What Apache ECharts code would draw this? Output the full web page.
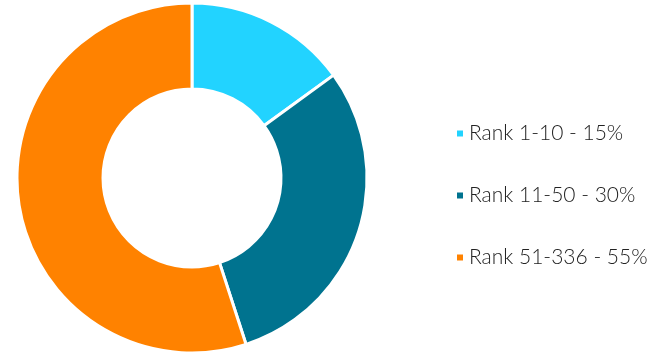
<!DOCTYPE html>
<html>
<head>
<meta charset="utf-8">
<style>
  html, body { margin: 0; padding: 0; background: #fff; }
  #chart { width: 665px; height: 354px; }
</style>
<script src="https://cdn.jsdelivr.net/npm/echarts@6/dist/echarts.min.js"></script>
</head>
<body>
<div id="chart"></div>
<script>
// Share of items by rank band
const categories = ['Rank 1-10', 'Rank 11-50', 'Rank 51-336'];
const shares = [15, 30, 55];
const colors = ['#22D3FF', '#00738F', '#FF8200'];

const chart = echarts.init(document.getElementById('chart'), null, { renderer: 'canvas' });

const data = categories.map((name, i) => ({
  name: name,
  value: shares[i],
  itemStyle: { color: colors[i] }
}));

chart.setOption({
  animation: false,
  legend: {
    orient: 'vertical',
    left: 450,
    top: 118,
    icon: 'rect',
    itemWidth: 8,
    itemHeight: 8,
    itemGap: 41,
    textStyle: {
      fontFamily: 'Lato',
      fontSize: 21,
      fontWeight: 300,
      color: '#222'
    },
    formatter: function (name) {
      const i = categories.indexOf(name);
      return name + ' - ' + shares[i] + '%';
    }
  },
  series: [{
    type: 'pie',
    center: [192, 178],
    radius: [89, 175],
    startAngle: 90,
    clockwise: true,
    label: { show: false },
    labelLine: { show: false },
    itemStyle: { borderColor: '#fff', borderWidth: 3 },
    emphasis: { disabled: true },
    data: data
  }]
});
</script>
</body>
</html>
